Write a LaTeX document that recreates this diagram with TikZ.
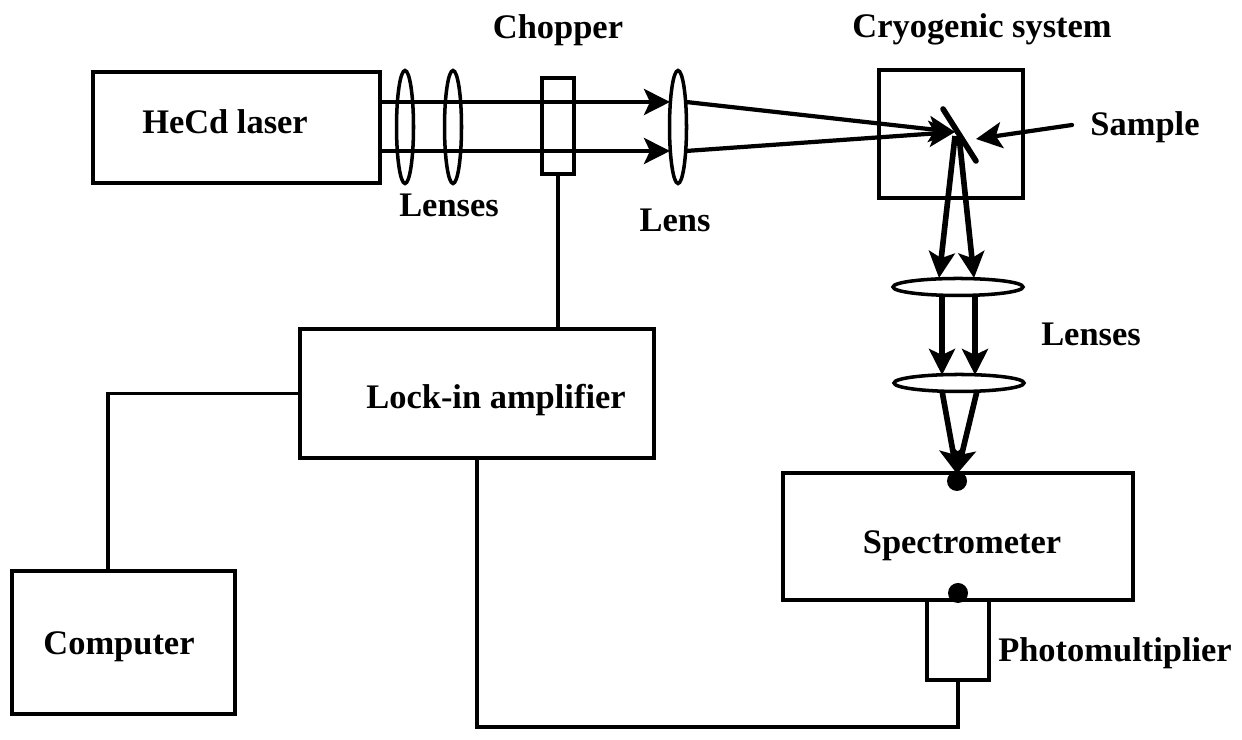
\documentclass[tikz,border=0pt]{standalone}
\usepackage{fontspec}
\setmainfont{Liberation Serif}
\usepackage{tikz}
\usetikzlibrary{%
    arrows.meta,%
    shapes.geometric%
}

\begin{document}
\begin{tikzpicture}[
    device/.style={draw,line width=1.1pt,outer sep=0pt,inner sep=0pt},
    lens/.style={draw,ellipse,line width=1pt,inner sep=0pt,outer sep=0pt},
    vlens/.style={lens,minimum width=.17cm,minimum height=1.13cm},
    hlens/.style={lens,minimum width=1.3cm,minimum height=.17cm},
    dot/.style={circle,fill=black,inner sep=0pt,minimum size=.2cm},
    label/.style={anchor=base,inner sep=0pt,
        font={\fontsize{9.8pt}{12pt}\selectfont\bfseries}},
    beam/.style={line width=1.2pt,-{Stealth[length=2.6mm,width=2.6mm,inset=.6mm]}},
    thickbeam/.style={beam,line width=1.6pt},
    wire/.style={line width=1.1pt},
    ]
    \useasboundingbox (0,0) rectangle (12.42,7.40);
    % Boxes
    \node[device,minimum width=2.87cm,minimum height=1.11cm] (laser) at (2.365,6.125) {};
    \node[device,minimum width=.32cm,minimum height=.96cm] (chopper) at (5.58,6.14) {};
    \node[device,minimum width=1.44cm,minimum height=1.28cm] (cryo) at (9.51,6.06) {};
    \node[device,minimum width=3.54cm,minimum height=1.29cm] (lockin) at (4.77,3.465) {};
    \node[device,minimum width=2.23cm,minimum height=1.43cm] (computer) at (1.235,.975) {};
    \node[device,minimum width=3.50cm,minimum height=1.27cm] (spectro) at (9.58,2.035) {};
    \node[device,minimum width=.62cm,minimum height=.80cm] (pmt) at (9.58,1.00) {};
    % Lenses
    \node[vlens] (lensa) at (4.05,6.13) {};
    \node[vlens] (lensb) at (4.53,6.13) {};
    \node[vlens] (lensc) at (6.78,6.13) {};
    \node[hlens] (lensd) at (9.58,4.53) {};
    \node[hlens] (lense) at (9.59,3.57) {};
    % Labels
    \node[label] (laserlab) at (2.25,6.06) {HeCd laser};
    \node[label] (chopperlab) at (5.58,7.01) {Chopper};
    \node[label] (cryolab) at (9.82,7.02) {Cryogenic system};
    \node[label] (samplelab) at (11.45,6.04) {Sample};
    \node[label] (lenseslab) at (4.49,5.23) {Lenses};
    \node[label] (lenslab) at (6.75,5.08) {Lens};
    \node[label] (lensestwo) at (10.91,3.94) {Lenses};
    \node[label] (lockinlab) at (4.96,3.31) {Lock-in amplifier};
    \node[label] (spectrolab) at (9.62,1.86) {Spectrometer};
    \node[label] (computerlab) at (1.19,.85) {Computer};
    \node[label] (pmtlab) at (11.15,.78) {Photomultiplier};
    % Points on the optical path
    \coordinate (beamup) at (6.70,6.38);
    \coordinate (beamdn) at (6.70,5.89);
    \coordinate (lcup) at (6.86,6.38);
    \coordinate (lcdn) at (6.86,5.89);
    \coordinate (focus) at (9.55,6.08);
    \coordinate (mirtop) at (9.43,6.31);
    \coordinate (mirbot) at (9.76,5.79);
    \coordinate (samplefrom) at (10.72,6.15);
    \coordinate (sampleto) at (9.76,6.01);
    \coordinate (refla) at (9.55,6.04);
    \coordinate (reflb) at (9.59,6.04);
    \coordinate (spectroin) at (9.57,2.66);
    % Beams
    \draw[beam] (laser.east |- beamup) -- (beamup);
    \draw[beam] (laser.east |- beamdn) -- (beamdn);
    \draw[beam] (lcup) -- (focus);
    \draw[beam] (lcdn) -- (focus);
    \draw[line width=1.6pt,line cap=round] (mirtop) -- (mirbot);
    \draw[beam,line cap=round] (samplefrom) -- (sampleto);
    \draw[thickbeam] (refla) -- (9.39,4.62);
    \draw[thickbeam] (reflb) -- (9.74,4.62);
    \draw[thickbeam] (9.42,4.45) -- (9.42,3.65);
    \draw[thickbeam] (9.75,4.45) -- (9.75,3.65);
    \node[dot] (dota) at (9.57,2.59) {};
    \node[dot] (dotb) at (9.58,1.47) {};
    \draw[thickbeam] (9.42,3.49) -- (spectroin);
    \draw[thickbeam] (9.77,3.49) -- (spectroin);
    % Signal lines
    \coordinate (compin) at (1.08,1.69);
    \coordinate (pmtbend) at (9.58,.13);
    \draw[wire] (chopper.south) -- (chopper.south |- lockin.north);
    \draw[wire] (lockin.west) -| (compin);
    \draw[wire] (lockin.south) |- (pmtbend) -- (pmt.south);
\end{tikzpicture}
\end{document}
